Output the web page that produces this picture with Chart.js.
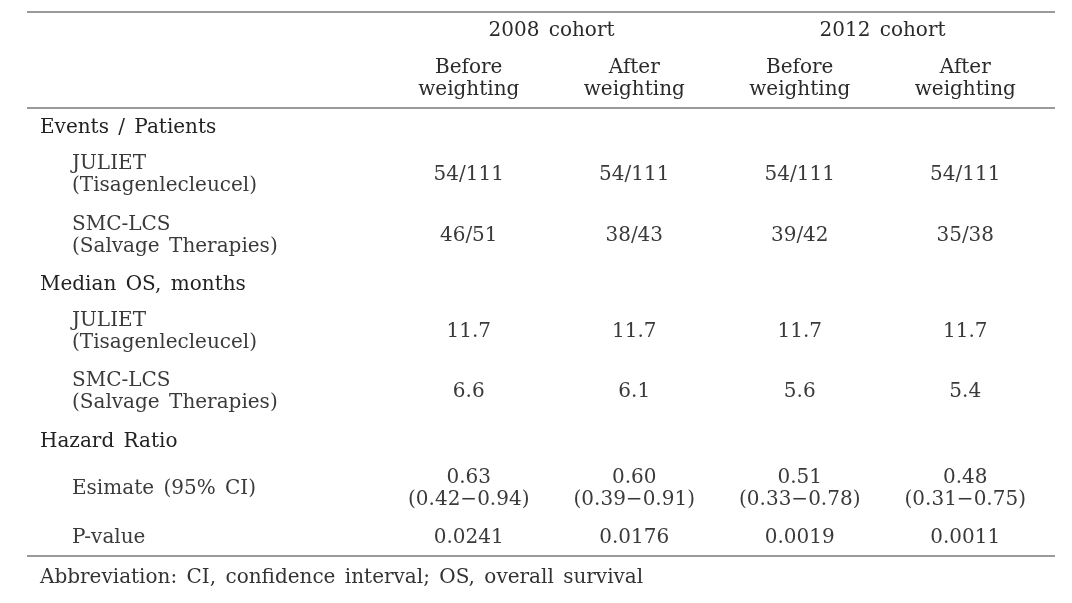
<!DOCTYPE html>
<html>
<head>
<meta charset="utf-8">
<script src="https://cdn.jsdelivr.net/npm/chart.js@4/dist/chart.umd.min.js"></script>
<style>
  body { margin: 0; background: #fff; }
  #wrap { width: 1072px; height: 603px; }
</style>
</head>
<body>
<div id="wrap"><canvas id="tableCanvas" width="1072" height="603"></canvas></div>
<script>
// table data
const cohorts = ['2008 cohort', '2012 cohort']
const columns = [['Before', 'weighting'], ['After', 'weighting'], ['Before', 'weighting'], ['After', 'weighting']]
const sections = ['Events / Patients', 'Median OS, months', 'Hazard Ratio']
const rowNames = [
  ['JULIET', '(Tisagenlecleucel)'],
  ['SMC-LCS', '(Salvage Therapies)'],
  ['JULIET', '(Tisagenlecleucel)'],
  ['SMC-LCS', '(Salvage Therapies)'],
  ['Esimate (95% CI)'],
  ['P-value']
]
const julietEvents = ['54/111', '54/111', '54/111', '54/111']
const smcEvents = ['46/51', '38/43', '39/42', '35/38']
const julietMedianOS = ['11.7', '11.7', '11.7', '11.7']
const smcMedianOS = ['6.6', '6.1', '5.6', '5.4']
const hrEstimate = ['0.63', '0.60', '0.51', '0.48']
const hrLower = ['0.42', '0.39', '0.33', '0.31']
const hrUpper = ['0.94', '0.91', '0.78', '0.75']
const pValues = ['0.0241', '0.0176', '0.0019', '0.0011']
const footnote = 'Abbreviation: CI, confidence interval; OS, overall survival'

// layout (y in scale units == px rows of the table)
const sectionY = [128, 285, 442]
const rowY = [175, 236, 332, 392, 489, 538]
const headY = { cohort: 31, sub: 79 }
const ruleY = [12, 108, 556]
const footY = 578
const lineGap = 22
const font = '"DejaVu Serif", "Liberation Serif", serif'

const cellText = [
  julietEvents.map(v => [v]),
  smcEvents.map(v => [v]),
  julietMedianOS.map(v => [v]),
  smcMedianOS.map(v => [v]),
  hrEstimate.map((v, i) => [v, '(' + hrLower[i] + '\u2212' + hrUpper[i] + ')']),
  pValues.map(v => [v])
]

const datasets = columns.map((c, ci) => ({
  label: c.join(' '),
  data: rowY.map(y => ({ x: ci + 1, y: y })),
  pointRadius: 0,
  showLine: false
}))

function lines(ctx, arr, x, y) {
  const off = (arr.length - 1) * lineGap / 2
  arr.forEach((t, i) => ctx.fillText(t, x, y - off + i * lineGap))
}

const tablePlugin = {
  id: 'tablePlugin',
  afterDraw(chart) {
    const ctx = chart.ctx
    const xs = chart.scales.x
    const ys = chart.scales.y
    ctx.save()
    ctx.textBaseline = 'middle'
    ctx.wordSpacing = '3px'

    // rules
    ctx.strokeStyle = '#9a9a9a'
    ctx.lineWidth = 2
    ruleY.forEach(r => {
      const py = ys.getPixelForValue(r)
      ctx.beginPath()
      ctx.moveTo(27, py)
      ctx.lineTo(1055, py)
      ctx.stroke()
    })

    // header
    ctx.font = '20px ' + font
    ctx.fillStyle = '#2a2a2a'
    ctx.textAlign = 'center'
    cohorts.forEach((c, i) => {
      const cx = (xs.getPixelForValue(i * 2 + 1) + xs.getPixelForValue(i * 2 + 2)) / 2
      ctx.fillText(c, cx, ys.getPixelForValue(headY.cohort))
    })
    columns.forEach((c, i) => lines(ctx, c, xs.getPixelForValue(i + 1), ys.getPixelForValue(headY.sub)))

    // section + row labels
    ctx.textAlign = 'left'
    ctx.fillStyle = '#222'
    sections.forEach((s, i) => ctx.fillText(s, 40, ys.getPixelForValue(sectionY[i])))
    ctx.fillStyle = '#3a3a3a'
    rowNames.forEach((r, i) => lines(ctx, r, 72, ys.getPixelForValue(rowY[i])))

    // cells, placed at the dataset points
    ctx.textAlign = 'center'
    ctx.fillStyle = '#3a3a3a'
    chart.data.datasets.forEach((ds, ci) => {
      chart.getDatasetMeta(ci).data.forEach((pt, ri) => lines(ctx, cellText[ri][ci], pt.x, pt.y))
    })

    // footnote
    ctx.textAlign = 'left'
    ctx.fillStyle = '#333'
    ctx.fillText(footnote, 40, ys.getPixelForValue(footY))
    ctx.restore()
  }
}

const tableChart = new Chart(document.getElementById('tableCanvas'), {
  type: 'scatter',
  data: { datasets: datasets },
  options: {
    responsive: false,
    animation: false,
    layout: { padding: { left: 386, right: 24, top: 0, bottom: 0 } },
    plugins: { legend: { display: false }, tooltip: { enabled: false } },
    scales: {
      x: { type: 'linear', min: 0.5, max: 4.5, display: false },
      y: { type: 'linear', min: 0, max: 603, reverse: true, display: false }
    }
  },
  plugins: [tablePlugin]
})
</script>
</body>
</html>
